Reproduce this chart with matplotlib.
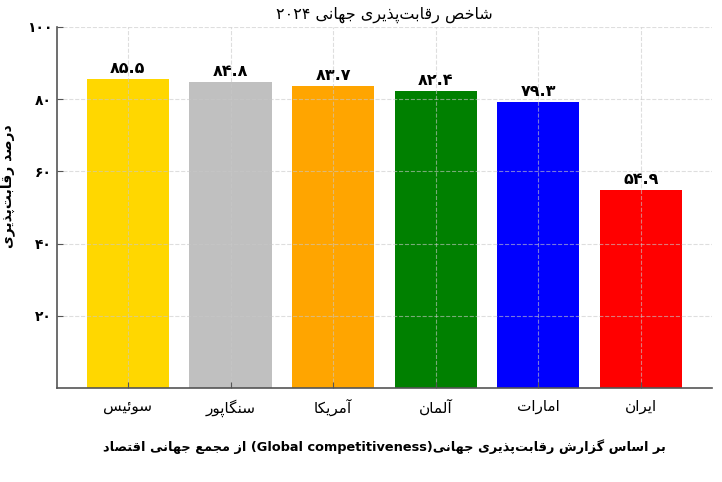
import matplotlib
matplotlib.use("Agg")
import matplotlib.pyplot as plt

countries = ["سوئیس", "سنگاپور", "آمریکا", "آلمان", "امارات", "ایران"]
scores = [85.5, 84.8, 83.7, 82.4, 79.3, 54.9]
bar_colors = ["gold", "silver", "orange", "green", "blue", "red"]
yticks = [20, 40, 60, 80, 100]

title = "شاخص رقابت‌پذیری جهانی ۲۰۲۴"
ylabel = "درصد رقابت‌پذیری"
xlabel = "بر اساس گزارش رقابت‌پذیری جهانی(Global competitiveness) از مجمع جهانی اقتصاد"

# presentation forms: isolated, final, initial, medial
FORMS = {
    "ا": (0xFE8D, 0xFE8E), "آ": (0xFE81, 0xFE82),
    "د": (0xFEA9, 0xFEAA), "ذ": (0xFEAB, 0xFEAC),
    "ر": (0xFEAD, 0xFEAE), "ز": (0xFEAF, 0xFEB0),
    "و": (0xFEED, 0xFEEE),
    "ب": (0xFE8F, 0xFE90, 0xFE91, 0xFE92), "پ": (0xFB56, 0xFB57, 0xFB58, 0xFB59),
    "ت": (0xFE95, 0xFE96, 0xFE97, 0xFE98), "ج": (0xFE9D, 0xFE9E, 0xFE9F, 0xFEA0),
    "خ": (0xFEA5, 0xFEA6, 0xFEA7, 0xFEA8), "س": (0xFEB1, 0xFEB2, 0xFEB3, 0xFEB4),
    "ش": (0xFEB5, 0xFEB6, 0xFEB7, 0xFEB8), "ص": (0xFEB9, 0xFEBA, 0xFEBB, 0xFEBC),
    "ع": (0xFEC9, 0xFECA, 0xFECB, 0xFECC), "ق": (0xFED5, 0xFED6, 0xFED7, 0xFED8),
    "ک": (0xFB8E, 0xFB8F, 0xFB90, 0xFB91), "گ": (0xFB92, 0xFB93, 0xFB94, 0xFB95),
    "ل": (0xFEDD, 0xFEDE, 0xFEDF, 0xFEE0), "م": (0xFEE1, 0xFEE2, 0xFEE3, 0xFEE4),
    "ن": (0xFEE5, 0xFEE6, 0xFEE7, 0xFEE8), "ه": (0xFEE9, 0xFEEA, 0xFEEB, 0xFEEC),
    "ی": (0xFBFC, 0xFBFD, 0xFBFE, 0xFBFF), "ئ": (0xFE89, 0xFE8A, 0xFE8B, 0xFE8C),
}


def dual(c):
    return c in FORMS and len(FORMS[c]) == 4


def shape(s):
    out = []
    for i, c in enumerate(s):
        if c not in FORMS:
            out.append(c)
            continue
        prev = s[i - 1] if i > 0 else ""
        nxt = s[i + 1] if i + 1 < len(s) else ""
        jp = dual(prev)
        jn = dual(c) and nxt in FORMS
        f = FORMS[c]
        if jp and jn:
            out.append(chr(f[3]))
        elif jn:
            out.append(chr(f[2]))
        elif jp:
            out.append(chr(f[1]))
        else:
            out.append(chr(f[0]))
    return "".join(out).replace("\u200c", "")


def is_ltr(c):
    return c.isascii() and c.isalnum() or "\u06f0" <= c <= "\u06f9"


def fa(s):
    # simple visual ordering for an RTL line
    s = shape(s)
    runs = []
    i = 0
    while i < len(s):
        j = i
        if is_ltr(s[i]):
            while j < len(s) and (is_ltr(s[j]) or (s[j] in " ." and j + 1 < len(s) and is_ltr(s[j + 1]))):
                j += 1
            runs.append(s[i:j])
        else:
            while j < len(s) and not is_ltr(s[j]):
                j += 1
            mirror = {"(": ")", ")": "("}
            runs.append("".join(mirror.get(ch, ch) for ch in s[i:j][::-1]))
        i = j
    return "".join(runs[::-1])


def fa_num(v):
    return str(v).translate(str.maketrans("0123456789", "۰۱۲۳۴۵۶۷۸۹"))


plt.rcParams["font.family"] = ["DejaVu Sans"]

fig = plt.figure(figsize=(7.22, 4.82), dpi=100)
ax = fig.add_axes([0.079, 0.195, 0.907, 0.749])

x = list(range(len(countries)))
bars = ax.bar(x, scores, width=0.8, color=bar_colors)

for b, v in zip(bars, scores):
    ax.text(b.get_x() + b.get_width() / 2, v + 0.8, fa_num(v),
            ha="center", va="bottom", fontsize=11.5, fontweight="bold")

ax.set_ylim(0, 100)
ax.set_yticks(yticks)
ax.set_yticklabels([fa_num(t) for t in yticks], fontsize=10, fontweight="bold")
ax.set_xticks(x)
ax.set_xticklabels([fa(c) for c in countries], fontsize=11)

ax.grid(True, linestyle="--", color="#c8c8c8", alpha=0.6, linewidth=0.8)
ax.tick_params(direction="in", length=4, color="#555555")
ax.tick_params(axis="x", pad=8)
for side in ("top", "right"):
    ax.spines[side].set_visible(False)
for side in ("left", "bottom"):
    ax.spines[side].set_color("#555555")
    ax.spines[side].set_linewidth(1.2)

ax.set_title(fa(title), fontsize=11.5, pad=6)
ax.set_ylabel(fa(ylabel), fontsize=10, fontweight="bold")
ax.yaxis.set_label_coords(-0.064, 0.56)
ax.set_xlabel(fa(xlabel), fontsize=9.3, fontweight="bold", labelpad=16)

fig.savefig("out.png", dpi=100)
